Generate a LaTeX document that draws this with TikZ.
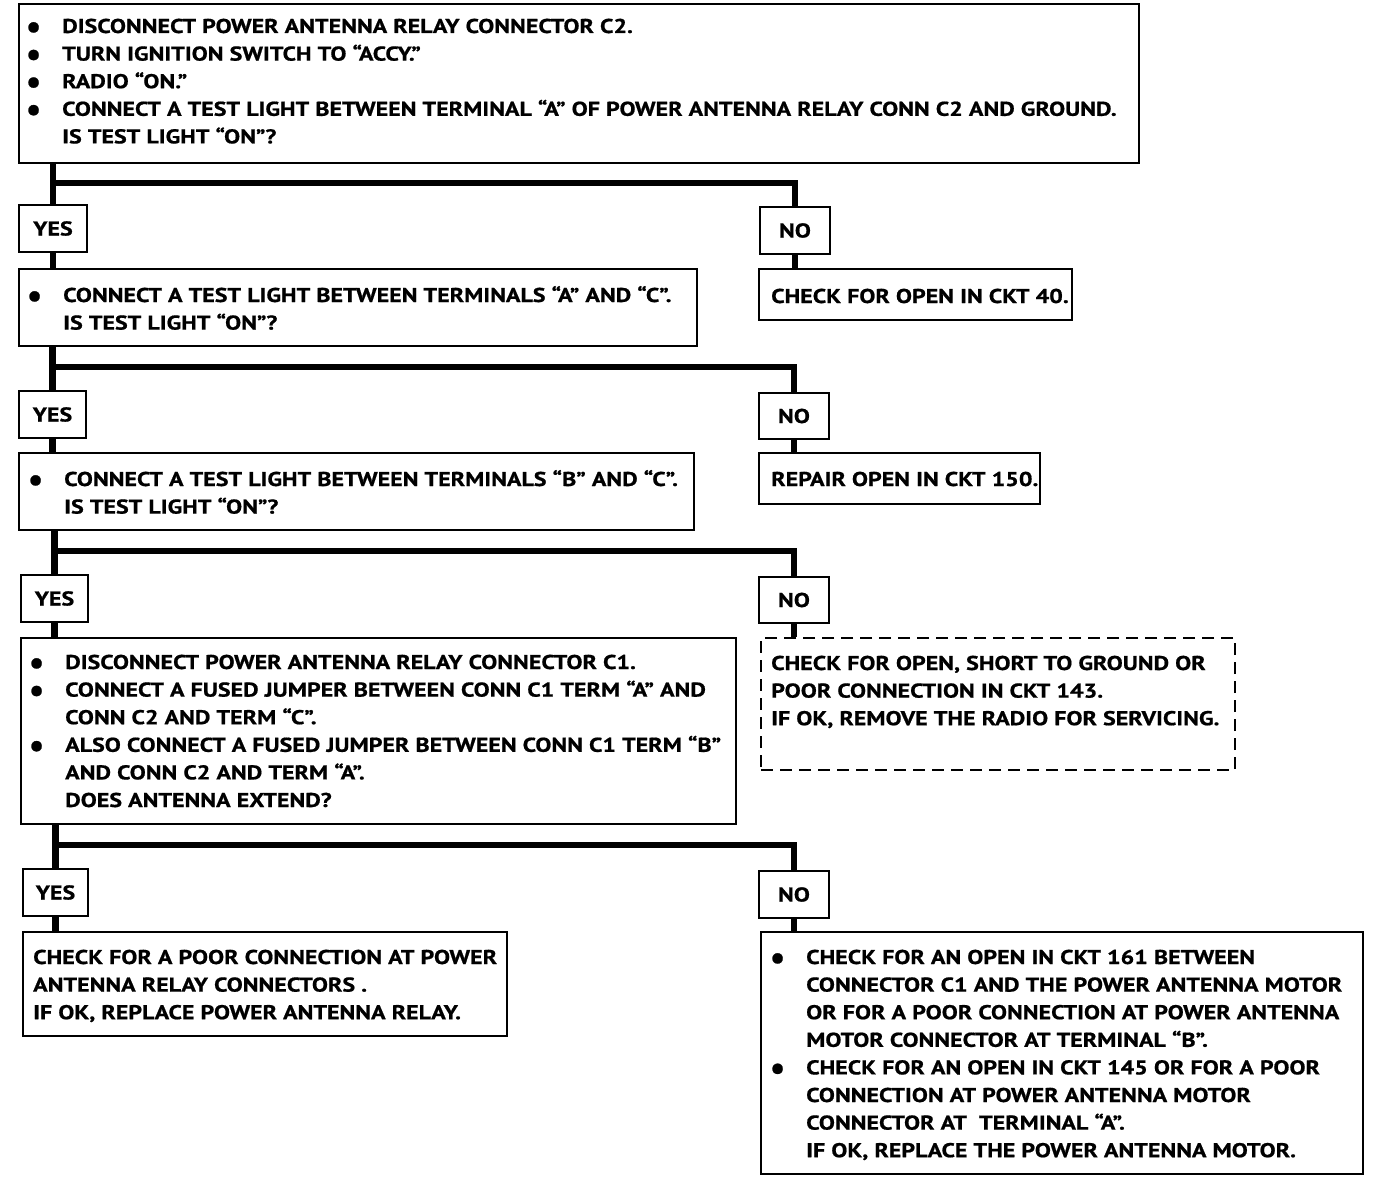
\documentclass[tikz,border=0pt]{standalone}
\usepackage{fontspec}
\setmainfont{PT Sans}[FakeStretch=1.2,BoldFeatures={FakeBold=0.8}]
\usepackage{graphicx}
\newcommand\bl{\llap{\raisebox{-5pt}{\scalebox{1.4}[1.7]{•}}\hspace{21pt}}}
\newcommand\tl[1]{\begin{tabular}[t]{@{}l@{}}#1\end{tabular}}
\begin{document}
\begin{tikzpicture}[x=1pt,y=-1pt,
  box/.style={draw,line width=2pt,inner sep=0pt,anchor=north west,font=\fontsize{20}{27.6}\selectfont\bfseries},
  dbox/.style={box,dash pattern=on 12pt off 7pt},
  txt/.style={inner sep=0pt,anchor=base west,font=\fontsize{20}{27.6}\selectfont\bfseries},
  bar/.style={line width=6.5pt,line join=miter}]
\useasboundingbox (0,0) rectangle (1392,1188);
% boxes
\node[box,minimum width=1120pt,minimum height=159pt] (b1) at (18,3) {};
\node[box,minimum width=68pt,minimum height=47pt] (y1) at (18,204) {YES};
\node[box,minimum width=70pt,minimum height=47pt] (n1) at (759,206) {NO};
\node[box,minimum width=678pt,minimum height=77pt] (b2) at (18,268) {};
\node[box,minimum width=313pt,minimum height=51pt] (c1) at (758,268) {};
\node[box,minimum width=67pt,minimum height=47pt] (y2) at (18,390) {YES};
\node[box,minimum width=70pt,minimum height=46pt] (n2) at (758,392) {NO};
\node[box,minimum width=675pt,minimum height=77pt] (b3) at (18,452) {};
\node[box,minimum width=281pt,minimum height=51pt] (c2) at (758,452) {};
\node[box,minimum width=67pt,minimum height=47pt] (y3) at (20,574) {YES};
\node[box,minimum width=70pt,minimum height=46pt] (n3) at (758,576) {NO};
\node[box,minimum width=715pt,minimum height=186pt] (b4) at (20,637) {};
\node[dbox,minimum width=474pt,minimum height=132pt] (c3) at (760,637) {};
\node[box,minimum width=65pt,minimum height=47pt] (y4) at (22,868) {YES};
\node[box,minimum width=70pt,minimum height=47pt] (n4) at (758,870) {NO};
\node[box,minimum width=484pt,minimum height=104pt] (b5) at (22,931) {};
\node[box,minimum width=602pt,minimum height=242pt] (c4) at (760,931) {};
% texts
\node[txt] (t1) at (62,33) {\tl{\bl DISCONNECT POWER ANTENNA RELAY CONNECTOR C2.\\
\bl TURN IGNITION SWITCH TO “ACCY.”\\
\bl RADIO “ON.”\\
\bl CONNECT A TEST LIGHT BETWEEN TERMINAL “A” OF POWER ANTENNA RELAY CONN C2 AND GROUND.\\
IS TEST LIGHT “ON”?}};
\node[txt] (t2) at (63,302) {\tl{\bl CONNECT A TEST LIGHT BETWEEN TERMINALS “A” AND “C”.\\
IS TEST LIGHT “ON”?}};
\node[txt] (tc1) at (771,303) {CHECK FOR OPEN IN CKT 40.};
\node[txt] (t3) at (64,486) {\tl{\bl CONNECT A TEST LIGHT BETWEEN TERMINALS “B” AND “C”.\\
IS TEST LIGHT “ON”?}};
\node[txt] (tc2) at (771,486) {REPAIR OPEN IN CKT 150.};
\node[txt] (t4) at (65,669) {\tl{\bl DISCONNECT POWER ANTENNA RELAY CONNECTOR C1.\\
\bl CONNECT A FUSED JUMPER BETWEEN CONN C1 TERM “A” AND\\
CONN C2 AND TERM “C”.\\
\bl ALSO CONNECT A FUSED JUMPER BETWEEN CONN C1 TERM “B”\\
AND CONN C2 AND TERM “A”.\\
DOES ANTENNA EXTEND?}};
\node[txt] (tc3) at (771,670) {\tl{CHECK FOR OPEN, SHORT TO GROUND OR\\
POOR CONNECTION IN CKT 143.\\
IF OK, REMOVE THE RADIO FOR SERVICING.}};
\node[txt] (t5) at (33,964) {\tl{CHECK FOR A POOR CONNECTION AT POWER\\
ANTENNA RELAY CONNECTORS .\\
IF OK, REPLACE POWER ANTENNA RELAY.}};
\node[txt] (tc4) at (806,964) {\tl{\bl CHECK FOR AN OPEN IN CKT 161 BETWEEN\\
CONNECTOR C1 AND THE POWER ANTENNA MOTOR\\
OR FOR A POOR CONNECTION AT POWER ANTENNA\\
MOTOR CONNECTOR AT TERMINAL “B”.\\
\bl CHECK FOR AN OPEN IN CKT 145 OR FOR A POOR\\
CONNECTION AT POWER ANTENNA MOTOR\\
CONNECTOR AT \ TERMINAL “A”.\\
IF OK, REPLACE THE POWER ANTENNA MOTOR.}};
% connectors
\coordinate (j1) at (52,183);
\coordinate (j2) at (52,367);
\coordinate (j3) at (54,551);
\coordinate (j4) at (54,845);
\draw[bar] (b1.south -| y1.north) -- (y1.north);
\draw[bar] (j1 -| y1.north) -| (n1.north);
\draw[bar] (y1.south) -- (y1.south |- b2.north);
\draw[bar] (n1.south) -- (n1.south |- c1.north);
\draw[bar] (b2.south -| y2.north) -- (y2.north);
\draw[bar] (j2 -| y2.north) -| (n2.north);
\draw[bar] (y2.south) -- (y2.south |- b3.north);
\draw[bar] (n2.south) -- (n2.south |- c2.north);
\draw[bar] (b3.south -| y3.north) -- (y3.north);
\draw[bar] (j3 -| y3.north) -| (n3.north);
\draw[bar] (y3.south) -- (y3.south |- b4.north);
\draw[bar] (n3.south) -- (n3.south |- c3.north);
\draw[bar] (b4.south -| y4.north) -- (y4.north);
\draw[bar] (j4 -| y4.north) -| (n4.north);
\draw[bar] (y4.south) -- (y4.south |- b5.north);
\draw[bar] (n4.south) -- (n4.south |- c4.north);
\end{tikzpicture}
\end{document}
